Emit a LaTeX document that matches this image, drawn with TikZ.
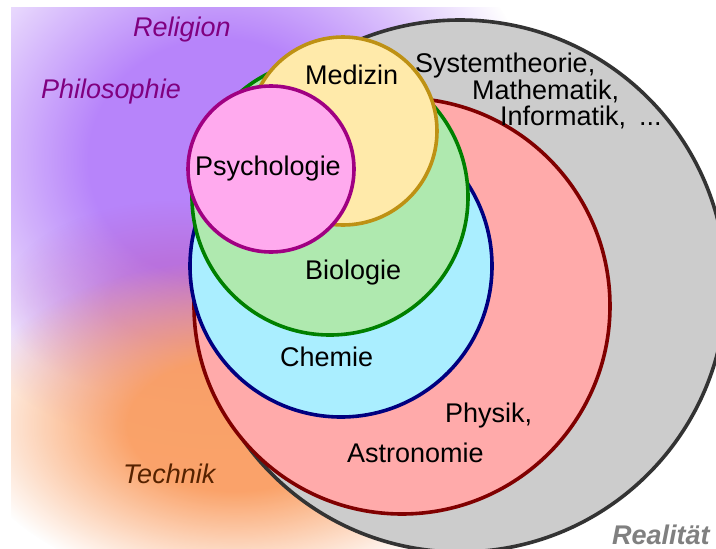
\documentclass[tikz,border=0pt]{standalone}
\usepackage{fontspec}
\setmainfont{Liberation Sans}
\usetikzlibrary{fadings}

\pgfdeclareradialshading{glowshade}{\pgfpointorigin}{color(0bp)=(white); color(10bp)=(white); color(25bp)=(black); color(50bp)=(black)}
\pgfdeclarefading{glowfade}{\pgfuseshading{glowshade}}

\definecolor{purpleglow}{RGB}{183,132,250}
\definecolor{orangeglow}{RGB}{250,158,98}
\definecolor{magentaglow}{RGB}{190,80,170}
\definecolor{grayfill}{RGB}{204,204,204}
\definecolor{grayline}{RGB}{51,51,51}
\definecolor{redfill}{RGB}{255,170,170}
\definecolor{redline}{RGB}{128,0,0}
\definecolor{bluefill}{RGB}{170,238,255}
\definecolor{blueline}{RGB}{0,0,128}
\definecolor{greenfill}{RGB}{175,233,175}
\definecolor{greenline}{RGB}{0,128,0}
\definecolor{yellowfill}{RGB}{255,234,170}
\definecolor{yellowline}{RGB}{190,145,20}
\definecolor{pinkfill}{RGB}{255,170,238}
\definecolor{pinkline}{RGB}{160,0,130}
\definecolor{purpletext}{RGB}{128,0,128}
\definecolor{browntext}{RGB}{85,34,0}
\definecolor{graytext}{RGB}{128,128,128}

\tikzset{
  ring/.style={line width=3.6pt},
  lbl/.style={anchor=base west, inner sep=0pt, font=\fontsize{27}{32}\selectfont},
  ilbl/.style={lbl, font=\fontsize{27}{32}\selectfont\itshape},
}

\begin{document}
\begin{tikzpicture}[x=1pt,y=-1pt]
\useasboundingbox (0,0) rectangle (716,549);
\fill[white] (0,0) rectangle (716,549);
\begin{scope}
  \clip (11,7) rectangle (716,549);
  \fill[purpleglow, path fading=glowfade] (220,160) ellipse [x radius=325pt, y radius=300pt];
  \fill[magentaglow, path fading=glowfade, fill opacity=0.35] (180,300) ellipse [x radius=180pt, y radius=100pt];
  \fill[orangeglow, path fading=glowfade, fill opacity=0.95] (235,425) ellipse [x radius=270pt, y radius=165pt];
\end{scope}

\draw[ring, fill=grayfill, draw=grayline] (460,286) circle[radius=266pt];
\draw[ring, fill=redfill, draw=redline] (402,306) circle[radius=208pt];
\draw[ring, fill=bluefill, draw=blueline] (341,266) circle[radius=151pt];
\draw[ring, fill=greenfill, draw=greenline] (330,197) circle[radius=138pt];
\draw[ring, fill=yellowfill, draw=yellowline] (343,131) circle[radius=94pt];
\draw[ring, fill=pinkfill, draw=pinkline] (271,169) circle[radius=83pt];

\node[ilbl, text=purpletext] (religion) at (133,36) {Religion};
\node[ilbl, text=purpletext] (philo) at (41,98) {Philosophie};
\node[lbl] (medizin) at (305,84) {Medizin};
\node[lbl] (psycho) at (195,175) {Psychologie};
\node[lbl] (system) at (415,72) {Systemtheorie,};
\node[lbl] (mathe) at (472,99) {Mathematik,};
\node[lbl] (info) at (500,125) {Informatik,\hspace{13pt}...};
\node[lbl] (bio) at (305,279) {Biologie};
\node[lbl] (chemie) at (280,366) {Chemie};
\node[lbl] (physik) at (445,422) {Physik,};
\node[lbl] (astro) at (347,462) {Astronomie};
\node[ilbl, text=browntext] (technik) at (123,483) {Technik};
\node[ilbl, text=graytext, font=\fontsize{27}{32}\selectfont\bfseries\itshape] (real) at (612,544) {Realität};
\end{tikzpicture}
\end{document}
